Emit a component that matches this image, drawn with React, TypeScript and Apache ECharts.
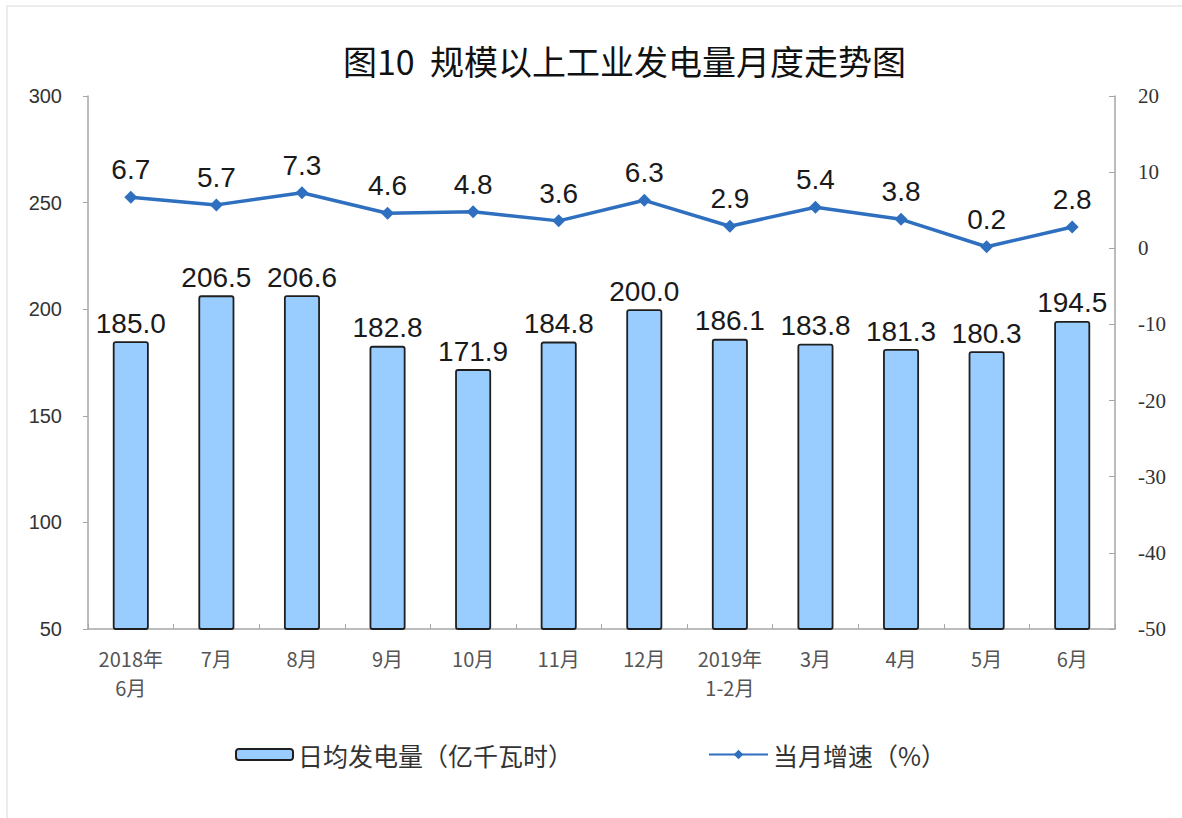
import React, { useEffect, useRef } from "react";
import * as echarts from "echarts";

const categories = ["2018年\n6月", "7月", "8月", "9月", "10月", "11月", "12月", "2019年\n1-2月", "3月", "4月", "5月", "6月"];
const dailyOutput = [185.0, 206.5, 206.6, 182.8, 171.9, 184.8, 200.0, 186.1, 183.8, 181.3, 180.3, 194.5];
const growthRate = [6.7, 5.7, 7.3, 4.6, 4.8, 3.6, 6.3, 2.9, 5.4, 3.8, 0.2, 2.8];
const barName = "日均发电量（亿千瓦时）";
const lineName = "当月增速（%）";
const titleText = "图10  规模以上工业发电量月度走势图";

export default function App() {
  const ref = useRef<HTMLDivElement>(null);
  useEffect(() => {
    document.body.style.margin = "0";
    const chart = echarts.init(ref.current!, null, { renderer: "svg" });
    const axisGray = "#a6a6a6";
    chart.setOption({
      animation: false,
      backgroundColor: "#ffffff",
      title: {
        text: titleText,
        left: 338,
        top: 38,
        textStyle: { fontFamily: "Noto Sans CJK SC", fontSize: 34, fontWeight: "normal", color: "#111" },
      },
      graphic: [
        { type: "rect", shape: { x: 6, y: 5, width: 1176, height: 2 }, style: { fill: "#ececec" } },
        { type: "rect", shape: { x: 6, y: 5, width: 2, height: 813 }, style: { fill: "#ececec" } },
      ],
      legend: [
        {
          data: [barName],
          left: 235,
          top: 742,
          padding: 0,
          itemWidth: 57,
          itemHeight: 11,
          textStyle: { fontFamily: "Noto Sans CJK SC", fontSize: 25, color: "#333" },
        },
        {
          data: [lineName],
          left: 708,
          top: 742,
          padding: 0,
          itemWidth: 59,
          itemHeight: 12,
          textStyle: { fontFamily: "Noto Sans CJK SC", fontSize: 25, color: "#333" },
        },
      ],
      grid: { left: 88, right: 67, top: 96, bottom: 189 },
      xAxis: {
        type: "category",
        data: categories,
        axisLine: { onZero: false, lineStyle: { color: axisGray, width: 1.5 } },
        axisTick: { show: true, inside: true, length: 5, alignWithLabel: false, lineStyle: { color: axisGray } },
        axisLabel: {
          interval: 0,
          margin: 15,
          fontFamily: "Noto Sans CJK SC",
          fontSize: 20,
          lineHeight: 29,
          color: "#555",
        },
      },
      yAxis: [
        {
          type: "value",
          min: 50,
          max: 300,
          interval: 50,
          splitLine: { show: false },
          axisLine: { show: true, lineStyle: { color: axisGray, width: 1.5 } },
          axisTick: { show: true, length: 5, lineStyle: { color: axisGray } },
          axisLabel: { margin: 26, fontFamily: "Liberation Sans", fontSize: 20, color: "#333" },
        },
        {
          type: "value",
          min: -50,
          max: 20,
          interval: 10,
          position: "right",
          alignTicks: false,
          splitLine: { show: false },
          axisLine: { show: true, lineStyle: { color: axisGray, width: 1.5 } },
          axisTick: { show: true, inside: true, length: 6, lineStyle: { color: axisGray } },
          axisLabel: { margin: 23, fontFamily: "Liberation Serif", fontSize: 21, color: "#333" },
        },
      ],
      series: [
        {
          name: barName,
          type: "bar",
          data: dailyOutput,
          yAxisIndex: 0,
          barWidth: 36,
          itemStyle: { color: "#99ccff", borderColor: "#1f1f1f", borderWidth: 1.8, borderRadius: 2 },
          label: {
            show: true,
            position: "top",
            distance: 4,
            formatter: (p: any) => Number(p.value).toFixed(1),
            fontFamily: "Liberation Sans",
            fontSize: 28,
            color: "#1a1a1a",
          },
        },
        {
          name: lineName,
          type: "line",
          data: growthRate,
          yAxisIndex: 1,
          symbol: "diamond",
          symbolSize: 13,
          lineStyle: { color: "#2e6fbf", width: 3.5 },
          itemStyle: { color: "#2e6fbf" },
          label: {
            show: true,
            position: "top",
            distance: 7,
            formatter: (p: any) => Number(p.value).toFixed(1),
            fontFamily: "Liberation Sans",
            fontSize: 28,
            color: "#1a1a1a",
          },
        },
      ],
    });
    return () => chart.dispose();
  }, []);
  return <div ref={ref} style={{ width: 1182, height: 818 }} />;
}
